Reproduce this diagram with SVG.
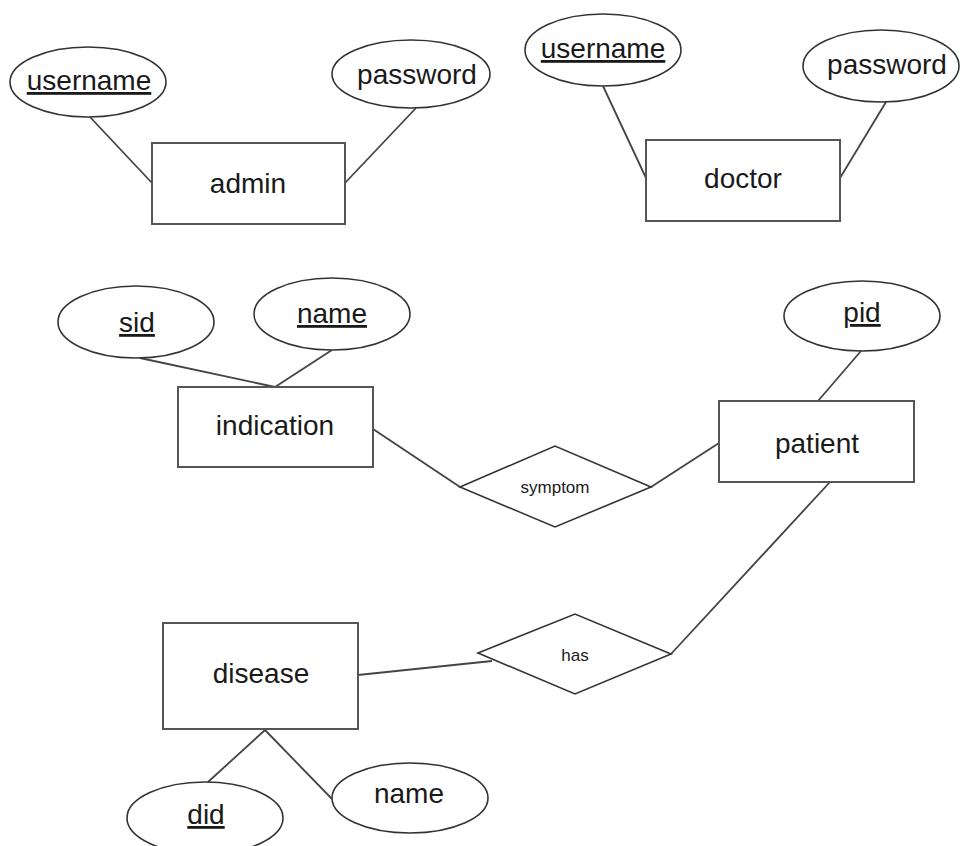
<svg xmlns="http://www.w3.org/2000/svg" width="960" height="846" viewBox="0 0 960 846">
  <style>
    .entity { fill: #ffffff; stroke: #555555; stroke-width: 2; }
    .attr { fill: #ffffff; stroke: #333333; stroke-width: 1.6; }
    .rel { fill: #ffffff; stroke: #333333; stroke-width: 1.6; }
    .conn { stroke: #444444; stroke-width: 1.8; fill: none; }
    .lbl { font-family: "Liberation Sans", Arial, sans-serif; font-size: 28px; fill: #1a1a1a; text-anchor: middle; }
    .small { font-size: 17px; }
    .key { text-decoration: underline; }
  </style>
  <rect width="960" height="846" fill="#ffffff"/>

  <!-- connectors -->
  <g id="connectors">
    <line class="conn" x1="90" y1="117" x2="152" y2="183"/>
    <line class="conn" x1="416" y1="108" x2="345" y2="183"/>
    <line class="conn" x1="603" y1="86" x2="646" y2="178"/>
    <line class="conn" x1="886" y1="102" x2="840" y2="178"/>
    <line class="conn" x1="140" y1="358" x2="275" y2="387"/>
    <line class="conn" x1="332" y1="350" x2="275" y2="387"/>
    <line class="conn" x1="861" y1="351" x2="818" y2="401"/>
    <line class="conn" x1="373" y1="429" x2="460" y2="487"/>
    <line class="conn" x1="651" y1="487" x2="719" y2="443"/>
    <line class="conn" x1="830" y1="482" x2="671" y2="654"/>
    <line class="conn" x1="358" y1="675" x2="492" y2="661"/>
    <line class="conn" x1="265" y1="730" x2="208" y2="782"/>
    <line class="conn" x1="265" y1="730" x2="332" y2="799"/>
  </g>

  <!-- admin -->
  <g id="admin">
    <rect class="entity" x="152" y="143" width="193" height="81"/>
    <text class="lbl" x="248" y="193">admin</text>
  </g>
  <g id="admin-username">
    <ellipse class="attr" cx="88" cy="82" rx="78" ry="35"/>
    <text class="lbl key" x="89" y="90">username</text>
  </g>
  <g id="admin-password">
    <ellipse class="attr" cx="411" cy="74" rx="79" ry="34"/>
    <text class="lbl" x="417" y="84">password</text>
  </g>

  <!-- doctor -->
  <g id="doctor">
    <rect class="entity" x="646" y="140" width="194" height="81"/>
    <text class="lbl" x="743" y="188">doctor</text>
  </g>
  <g id="doctor-username">
    <ellipse class="attr" cx="603" cy="50" rx="78" ry="36"/>
    <text class="lbl key" x="603" y="58">username</text>
  </g>
  <g id="doctor-password">
    <ellipse class="attr" cx="881" cy="66" rx="78" ry="36"/>
    <text class="lbl" x="887" y="74">password</text>
  </g>

  <!-- indication -->
  <g id="indication">
    <rect class="entity" x="178" y="387" width="195" height="80"/>
    <text class="lbl" x="275" y="435">indication</text>
  </g>
  <g id="indication-sid">
    <ellipse class="attr" cx="136" cy="322" rx="78" ry="36"/>
    <text class="lbl key" x="137" y="332">sid</text>
  </g>
  <g id="indication-name">
    <ellipse class="attr" cx="332" cy="314" rx="78" ry="36"/>
    <text class="lbl key" x="332" y="323">name</text>
  </g>

  <!-- symptom relationship -->
  <g id="symptom">
    <polygon class="rel" points="460,487 555,446 651,487 555,527"/>
    <text class="lbl small" x="555" y="493">symptom</text>
  </g>

  <!-- patient -->
  <g id="patient">
    <rect class="entity" x="719" y="401" width="195" height="81"/>
    <text class="lbl" x="817" y="453">patient</text>
  </g>
  <g id="patient-pid">
    <ellipse class="attr" cx="862" cy="316" rx="78" ry="35"/>
    <text class="lbl key" x="862" y="322">pid</text>
  </g>

  <!-- has relationship -->
  <g id="has">
    <polygon class="rel" points="478,653 575,614 671,654 575,694"/>
    <text class="lbl small" x="575" y="661">has</text>
  </g>

  <!-- disease -->
  <g id="disease">
    <rect class="entity" x="163" y="623" width="195" height="106"/>
    <text class="lbl" x="261" y="683">disease</text>
  </g>
  <g id="disease-did">
    <ellipse class="attr" cx="205" cy="818" rx="78" ry="36"/>
    <text class="lbl key" x="206" y="824">did</text>
  </g>
  <g id="disease-name">
    <ellipse class="attr" cx="410" cy="798" rx="78" ry="35"/>
    <text class="lbl" x="409" y="803">name</text>
  </g>
</svg>
